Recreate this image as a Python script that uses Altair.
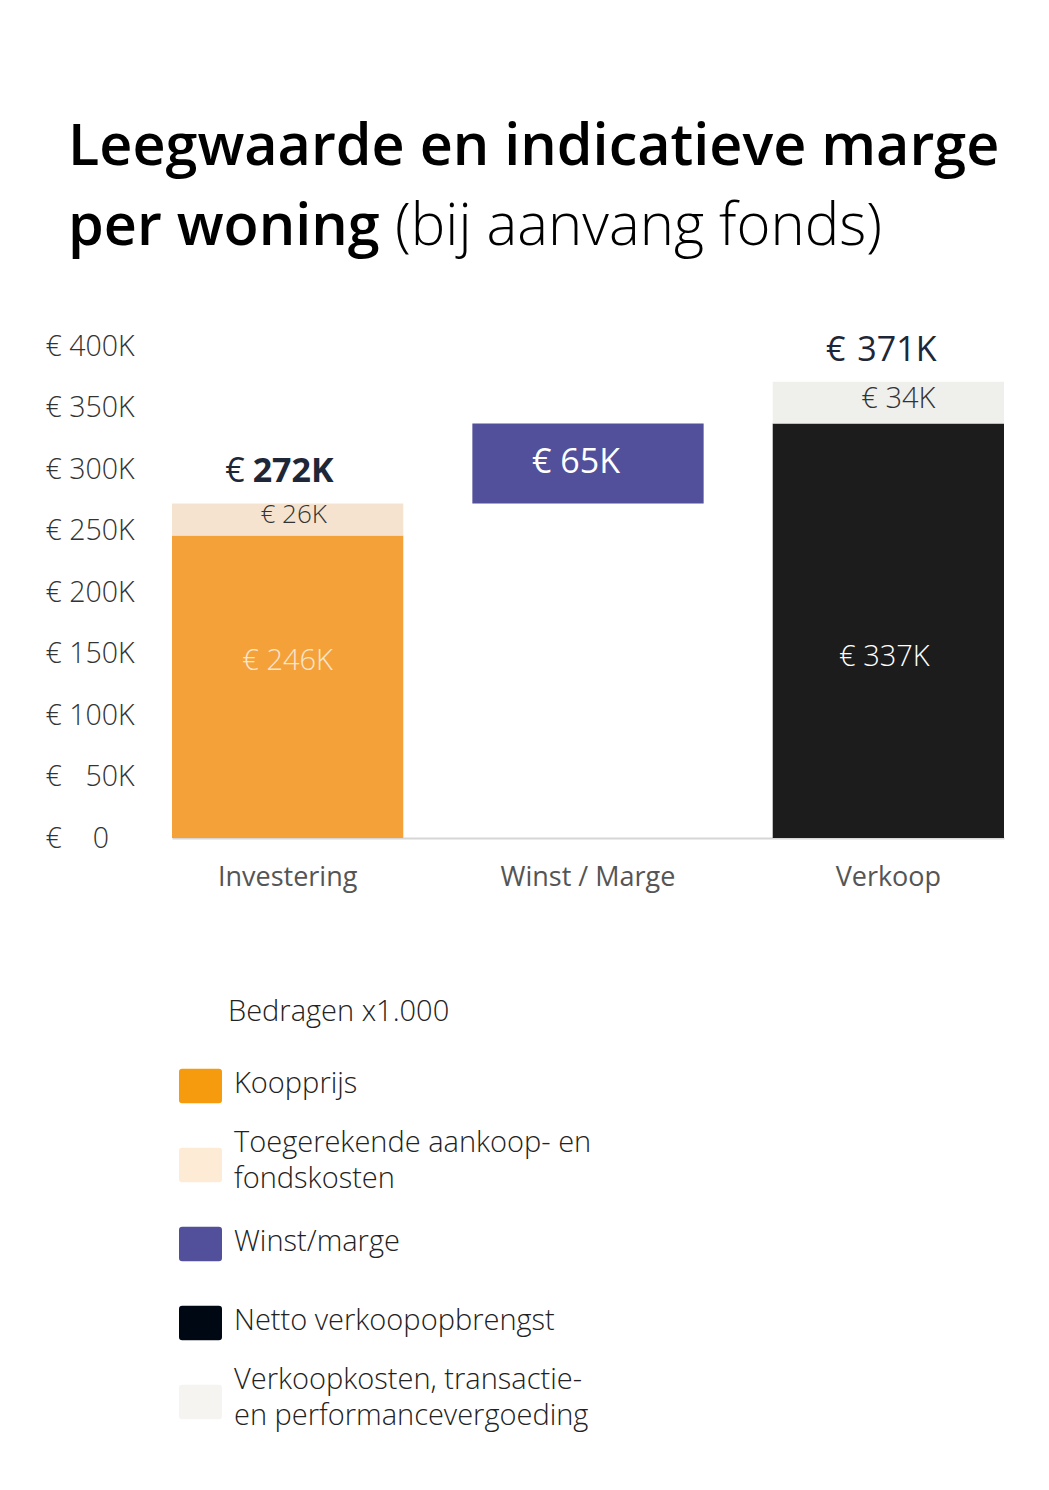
import altair as alt
import pandas as pd

FONT = "Open Sans"

# ---- data ----
categories = ["Investering", "Winst / Marge", "Verkoop"]

seg_cat = ["Investering", "Investering", "Winst / Marge", "Verkoop", "Verkoop"]
seg_name = ["Koopprijs", "Toegerekende aankoop- en fondskosten", "Winst/marge",
            "Netto verkoopopbrengst", "Verkoopkosten, transactie- en performancevergoeding"]
seg_start = [0, 246, 272, 0, 337]
seg_end = [246, 272, 337, 337, 371]
seg_label = ["€ 246K", "€ 26K", "€ 65K", "€ 337K", "€ 34K"]

total_cat = ["Investering", "Verkoop"]
total_val = [272, 371]
total_num = ["272K", "371K"]

legend_labels = ["Koopprijs", "Toegerekende aankoop- en\nfondskosten", "Winst/marge",
                 "Netto verkoopopbrengst", "Verkoopkosten, transactie-\nen performancevergoeding"]

y_ticks = [0, 50, 100, 150, 200, 250, 300, 350, 400]

# ---- styles ----
bar_colors = ["#F5A13A", "#F5E3CF", "#524F9B", "#1C1C1C", "#EFEFEC"]
legend_colors = ["#F59B0D", "#FDEBD6", "#524F9B", "#000814", "#F5F4F1"]
label_colors = ["#F8E6CF", "#333333", "#FFFFFF", "#FFFFFF", "#333333"]
label_sizes = [29, 26, 34, 29, 29]
label_weights = [300, 300, 400, 300, 300]
label_dx = [0, 6, -12, -4, 10]
label_dy = [-26, -4, 0, 26, -4]

seg_df = pd.DataFrame({"cat": seg_cat, "name": seg_name, "start": seg_start,
                       "end": seg_end, "label": seg_label})
tot_df = pd.DataFrame({"cat": total_cat, "val": total_val, "num": total_num})
leg_df = pd.DataFrame({"name": seg_name, "label": legend_labels})

x_enc = alt.X("cat:N", sort=categories, title=None,
              scale=alt.Scale(paddingInner=0.23, paddingOuter=0),
              axis=alt.Axis(labelAngle=0, labelFont=FONT, labelFontSize=27,
                            labelColor="#555555", labelPadding=26, ticks=False,
                            domainColor="#D6D6D6", domainWidth=2))
y_scale = alt.Scale(domain=[0, 400], nice=False)

bars = alt.Chart(seg_df).mark_bar().encode(
    x=x_enc,
    y=alt.Y("start:Q", scale=y_scale, title=None,
            axis=alt.Axis(values=y_ticks, grid=False, ticks=False, domain=False,
                          labelAlign="left", labelPadding=127, labelFont=FONT,
                          labelFontWeight=300, labelFontSize=28.5, labelColor="#333333",
                          labelFlush=False,
                          labelExpr="datum.value == 0 ? '€ \u2007 0' : (datum.value < 100 ? '€ \u2007' + datum.value + 'K' : '€ ' + datum.value + 'K')")),
    y2="end:Q",
    color=alt.Color("name:N", scale=alt.Scale(domain=seg_name, range=bar_colors), legend=None),
)

seg_layers = []
for i, nm in enumerate(seg_name):
    seg_layers.append(
        alt.Chart(seg_df)
        .transform_filter(alt.datum.name == nm)
        .transform_calculate(mid="(datum.start + datum.end) / 2")
        .mark_text(font=FONT, fontWeight=label_weights[i], fontSize=label_sizes[i],
                   color=label_colors[i], baseline="middle", dx=label_dx[i], dy=label_dy[i])
        .encode(x=alt.X("cat:N", sort=categories),
                y=alt.Y("mid:Q", scale=y_scale),
                text="label:N")
    )

tot_euro = alt.Chart(tot_df).mark_text(font=FONT, fontWeight=400, fontSize=34, align="right",
                                        baseline="middle", dy=-31, dx=-43, color="#1E2738").encode(
    x=alt.X("cat:N", sort=categories), y=alt.Y("val:Q", scale=y_scale), text=alt.value("€"))
tot_bold = alt.Chart(tot_df).transform_filter("datum.cat == 'Investering'").mark_text(
    font=FONT, fontWeight=700, fontSize=34, align="left", baseline="middle", dy=-31, dx=-35,
    color="#1E2738").encode(
    x=alt.X("cat:N", sort=categories), y=alt.Y("val:Q", scale=y_scale), text="num:N")
tot_reg = alt.Chart(tot_df).transform_filter("datum.cat == 'Verkoop'").mark_text(
    font=FONT, fontWeight=400, fontSize=34, align="left", baseline="middle", dy=-31, dx=-31,
    color="#1E2738").encode(
    x=alt.X("cat:N", sort=categories), y=alt.Y("val:Q", scale=y_scale), text="num:N")

main = alt.layer(bars, *seg_layers, tot_euro, tot_bold, tot_reg).properties(
    width=832, height=492)

# ---- header ----
hdr_df = pd.DataFrame({"t": ["Leegwaarde en indicatieve marge", "per woning", "(bij aanvang fonds)"]})
h1 = alt.Chart(hdr_df).transform_filter("datum.t == 'Leegwaarde en indicatieve marge'").mark_text(
    font=FONT, fontWeight=600, fontSize=57.5, align="left", baseline="alphabetic", color="#000000").encode(
    text="t:N", x=alt.value(-104), y=alt.value(157))
h2 = alt.Chart(hdr_df).transform_filter("datum.t == 'per woning'").mark_text(
    font=FONT, fontWeight=600, fontSize=57.5, align="left", baseline="alphabetic", color="#000000").encode(
    text="t:N", x=alt.value(-104), y=alt.value(237))
h3 = alt.Chart(hdr_df).transform_filter("datum.t == '(bij aanvang fonds)'").mark_text(
    font=FONT, fontWeight=300, fontSize=58, align="left", baseline="alphabetic", color="#000000").encode(
    text="t:N", x=alt.value(223), y=alt.value(237))
header = alt.layer(h1, h2, h3).properties(width=832, height=296)

# ---- legend ----
shape = ("M-0.85,-0.8 L0.85,-0.8 Q1,-0.8 1,-0.65 L1,0.65 Q1,0.8 0.85,0.8 "
         "L-0.85,0.8 Q-1,0.8 -1,0.65 L-1,-0.65 Q-1,-0.8 -0.85,-0.8 Z")
leg_y = alt.Y("name:N", sort=seg_name, scale=alt.Scale(range=[206, 522], padding=0), axis=None)
leg_sw = alt.Chart(leg_df).mark_point(filled=True, shape=shape, size=1849, opacity=1).encode(
    x=alt.value(28.5), y=leg_y,
    color=alt.Color("name:N", scale=alt.Scale(domain=seg_name, range=legend_colors), legend=None))
leg_tx1 = alt.Chart(leg_df).transform_filter("indexof(datum.label, '\\n') < 0").mark_text(
    font=FONT, fontWeight=300, fontSize=29, align="left", baseline="middle",
    dy=-2, color="#222222").encode(x=alt.value(62), y=leg_y, text="label:N")
leg_tx2 = alt.Chart(leg_df).transform_filter("indexof(datum.label, '\\n') >= 0").mark_text(
    font=FONT, fontWeight=300, fontSize=29, align="left", baseline="middle",
    lineBreak="\n", lineHeight=36, dy=-22, color="#222222").encode(
    x=alt.value(62), y=leg_y, text="label:N")
leg_title = alt.Chart(pd.DataFrame({"t": ["Bedragen x1.000"]})).mark_text(
    font=FONT, fontWeight=300, fontSize=29, align="left", baseline="middle", color="#222222").encode(
    text="t:N", x=alt.value(56), y=alt.value(132))
legend = alt.layer(leg_sw, leg_tx1, leg_tx2, leg_title).properties(width=832, height=560)

chart = alt.vconcat(header, main, legend, spacing=42, bounds="flush").resolve_scale(
    color="independent").properties(
    padding={"left": 37, "top": 0, "right": 5, "bottom": 5}, background="#FFFFFF"
).configure_view(strokeWidth=0)

chart.save("out.html", embed_options={"renderer": "svg", "actions": False})
